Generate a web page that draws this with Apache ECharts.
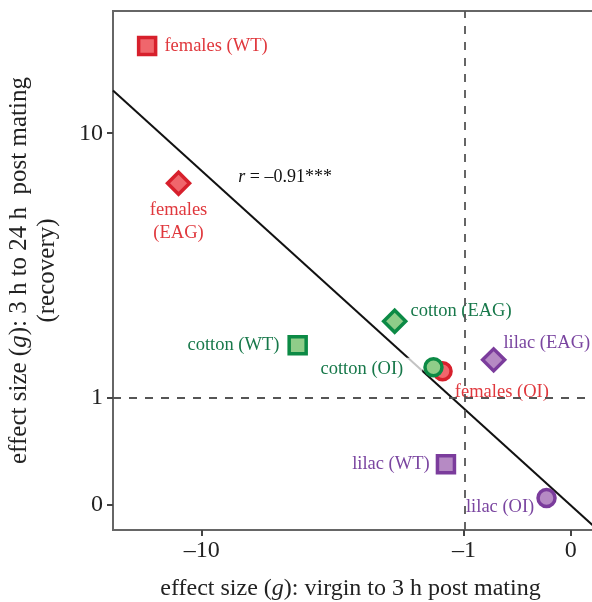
<!DOCTYPE html>
<html>
<head>
<meta charset="utf-8">
<script src="https://cdn.jsdelivr.net/npm/echarts@6/dist/echarts.min.js"></script>
<style>
html,body{margin:0;padding:0;background:#fff;}
#c{width:592px;height:602px;}
</style>
</head>
<body>
<div id="c"></div>
<script>
// ---- data (original, untransformed effect sizes) ----
var names = ['females (WT)','females (EAG)','females (OI)','cotton (WT)','cotton (EAG)','cotton (OI)','lilac (WT)','lilac (EAG)','lilac (OI)'];
var xVals = [-14.7, -11.8, -1.30, -4.9, -2.14, -1.44, -1.25, -0.65, -0.17];
var yVals = [18.3, 6.97, 1.37, 1.8, 2.27, 1.43, 0.30, 1.55, 0.046];
var xTicks = [-10, -1, 0];
var yTicks = [0, 1, 10];
var refX = [-1];
var refY = [1];
var rText = '\u20130.91***';
var rPos = [-5.4, 7.3];

// ---- symmetric log transform ----
function f(v){ return (v < 0 ? -1 : 1) * Math.log10(1 + Math.abs(v)); }
function finv(t){ return (t < 0 ? -1 : 1) * (Math.pow(10, Math.abs(t)) - 1); }
function fmt(t){
  var v = Math.round(finv(t));
  return v < 0 ? '\u2013' + Math.abs(v) : String(v);
}

var xMin = f(-18.6), xMax = f(0.21);
var yMin = f(-0.175), yMax = f(23.2);

// least-squares fit in transformed space
var tx = xVals.map(f), ty = yVals.map(f);
var n = tx.length, mx = 0, my = 0;
for (var i = 0; i < n; i++){ mx += tx[i]; my += ty[i]; }
mx /= n; my /= n;
var sxy = 0, sxx = 0;
for (i = 0; i < n; i++){ sxy += (tx[i]-mx)*(ty[i]-my); sxx += (tx[i]-mx)*(tx[i]-mx); }
var slope = sxy / sxx, icpt = my - slope * mx;

var serif = 'Liberation Serif';
var palette = {
  females: {border:'#d7202c', fill:'#f0666c', text:'#e0383d'},
  cotton:  {border:'#0c8a45', fill:'#8fcd89', text:'#17784a'},
  lilac:   {border:'#7b3c9c', fill:'#b68ac4', text:'#7a45a0'}
};
var shapes = {WT:'rect', EAG:'diamond', OI:'circle'};
var sizes = {WT:17, EAG:22, OI:17};
var labelCfg = {
  'females (WT)':  {position:'right', distance:7},
  'females (EAG)': {position:'bottom', distance:3, formatter:'females\n(EAG)', align:'center', lineHeight:23},
  'females (OI)':  {position:'right', distance:2, offset:[0,21]},
  'cotton (WT)':   {position:'left', distance:8},
  'cotton (EAG)':  {position:'right', distance:3, offset:[0,-10]},
  'cotton (OI)':   {position:'left', distance:1, offset:[0,2], backgroundColor:'rgba(255,255,255,0.75)', padding:[2,19,2,2]},
  'lilac (WT)':    {position:'left', distance:6},
  'lilac (EAG)':   {position:'right', distance:-3, offset:[0,-17]},
  'lilac (OI)':    {position:'left', distance:2, offset:[0,9]}
};

var pts = names.map(function(nm, k){
  var grp = nm.split(' ')[0];
  var kind = nm.match(/\((\w+)\)/)[1];
  var c = palette[grp];
  var lab = Object.assign({show:true, formatter:'{b}', color:c.text, fontFamily:serif, fontSize:18.5}, labelCfg[nm]);
  return {
    name: nm,
    value: [f(xVals[k]), f(yVals[k])],
    symbol: shapes[kind],
    symbolSize: sizes[kind],
    itemStyle: {color:c.fill, borderColor:c.border, borderWidth:3.5, opacity:1},
    label: lab
  };
});

var chart = echarts.init(document.getElementById('c'), null, {renderer:'canvas'});
chart.setOption({
  animation: false,
  backgroundColor: '#fff',
  grid: {left:113, right:-8, top:11, bottom:72, show:true, borderColor:'#666', borderWidth:2, containLabel:false, outerBoundsMode:'none'},
  xAxis: {
    type:'value', min:xMin, max:xMax,
    splitLine:{show:false},
    axisLine:{show:true, onZero:false, lineStyle:{color:'#666', width:2}},
    axisTick:{show:true, customValues:xTicks.map(f), length:6, lineStyle:{color:'#444', width:2}},
    axisLabel:{show:true, customValues:xTicks.map(f), formatter:fmt, fontFamily:serif, fontSize:24, color:'#222', margin:9},
    name:'{t|effect size (}{i|g}{t|): virgin to 3 h post mating}',
    nameLocation:'middle', nameGap:47,
    nameTextStyle:{padding:[0,12,0,0], rich:{
      t:{fontFamily:serif, fontSize:24, color:'#222'},
      i:{fontFamily:serif, fontSize:24, color:'#222', fontStyle:'italic'}
    }}
  },
  yAxis: {
    type:'value', min:yMin, max:yMax,
    splitLine:{show:false},
    axisLine:{show:true, onZero:false, lineStyle:{color:'#666', width:2}},
    axisTick:{show:true, customValues:yTicks.map(f), length:6, lineStyle:{color:'#444', width:2}},
    axisLabel:{show:true, customValues:yTicks.map(f), formatter:fmt, fontFamily:serif, fontSize:24, color:'#222', margin:10},
    name:'{t|effect size (}{i|g}{t|): 3 h to 24 h  post mating}\n{t|(recovery)}',
    nameLocation:'middle', nameGap:52, nameRotate:90,
    nameTextStyle:{align:'center', rich:{
      t:{fontFamily:serif, fontSize:25, color:'#222', lineHeight:28, align:'center'},
      i:{fontFamily:serif, fontSize:25, color:'#222', fontStyle:'italic', lineHeight:28}
    }}
  },
  series: [
    {
      type:'line', z:1, silent:true, showSymbol:false, symbol:'none',
      data:[[xMin, slope*xMin+icpt],[xMax, slope*xMax+icpt]],
      lineStyle:{color:'#111', width:2},
      markLine:{
        silent:true, symbol:'none', label:{show:false},
        lineStyle:{color:'#555', width:1.8, type:[8,8]},
        data: refX.map(function(v){return {xAxis:f(v)};}).concat(refY.map(function(v){return {yAxis:f(v)};}))
      }
    },
    {
      type:'scatter', z:3, silent:true,
      data: pts
    },
    {
      type:'scatter', z:3, silent:true, symbolSize:0,
      itemStyle:{opacity:1},
      data:[{value:[f(rPos[0]), f(rPos[1])]}],
      label:{show:true, position:'inside', formatter:'{i|r}{t| = ' + rText + '}',
        rich:{
          i:{fontFamily:serif, fontSize:18, color:'#111', fontStyle:'italic'},
          t:{fontFamily:serif, fontSize:18, color:'#111'}
        }}
    }
  ]
});
</script>
</body>
</html>
